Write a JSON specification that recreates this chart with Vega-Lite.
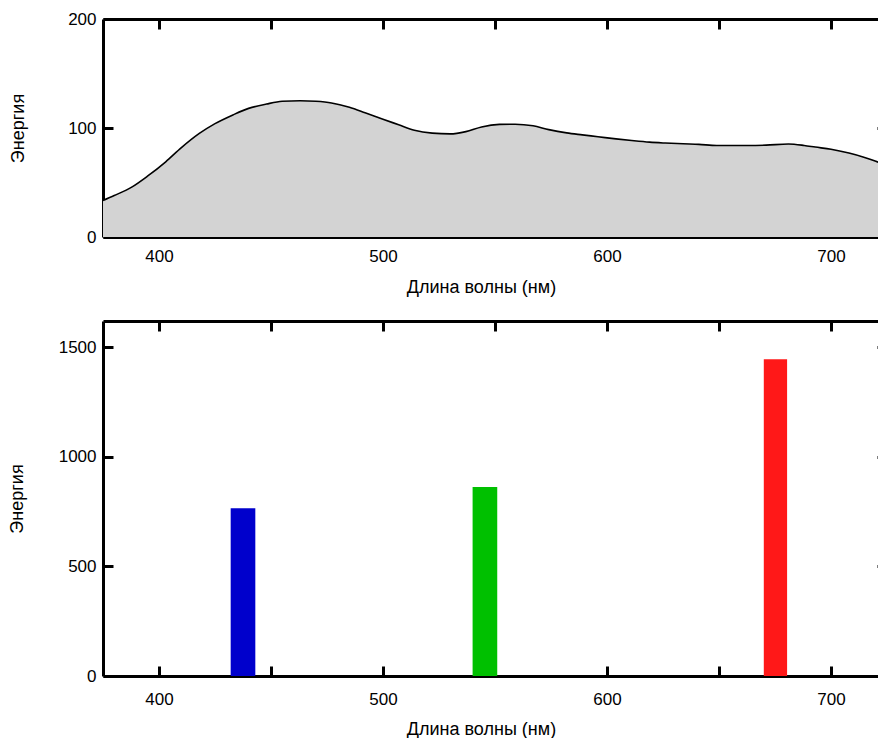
{
  "$schema": "https://vega.github.io/schema/vega-lite/v6.json",
  "padding": {"left": 8, "top": 10, "right": 0, "bottom": 0},
  "background": "white",
  "spacing": 23,
  "datasets": {
    "spectrum": [
      {"nm": 375, "energy": 33.5}, {"nm": 380, "energy": 38}, {"nm": 388, "energy": 46},
      {"nm": 395, "energy": 56}, {"nm": 403, "energy": 69}, {"nm": 410, "energy": 82},
      {"nm": 418, "energy": 95}, {"nm": 425, "energy": 104}, {"nm": 433, "energy": 112},
      {"nm": 440, "energy": 118}, {"nm": 448, "energy": 122}, {"nm": 455, "energy": 124.5},
      {"nm": 463, "energy": 125}, {"nm": 470, "energy": 124.5}, {"nm": 477, "energy": 123},
      {"nm": 485, "energy": 119}, {"nm": 492, "energy": 114}, {"nm": 500, "energy": 108},
      {"nm": 507, "energy": 103}, {"nm": 514, "energy": 98}, {"nm": 522, "energy": 95.3},
      {"nm": 530, "energy": 94.6}, {"nm": 537, "energy": 96.7}, {"nm": 544, "energy": 101},
      {"nm": 552, "energy": 103.3}, {"nm": 559, "energy": 103.5}, {"nm": 567, "energy": 102},
      {"nm": 574, "energy": 98.5}, {"nm": 582, "energy": 95.5}, {"nm": 589, "energy": 93.7},
      {"nm": 596, "energy": 92}, {"nm": 604, "energy": 90}, {"nm": 611, "energy": 88.5},
      {"nm": 619, "energy": 87}, {"nm": 626, "energy": 86.2}, {"nm": 634, "energy": 85.5},
      {"nm": 641, "energy": 85}, {"nm": 649, "energy": 84}, {"nm": 656, "energy": 84},
      {"nm": 663, "energy": 84}, {"nm": 671, "energy": 84.3}, {"nm": 681, "energy": 85.3},
      {"nm": 688, "energy": 84}, {"nm": 693, "energy": 82.5}, {"nm": 700, "energy": 80.5},
      {"nm": 708, "energy": 77}, {"nm": 715, "energy": 73}, {"nm": 720, "energy": 69.5},
      {"nm": 725, "energy": 65}
    ],
    "lines": [
      {"start": 432, "end": 443, "energy": 765, "color": "#0000cc"},
      {"start": 540, "end": 551, "energy": 862, "color": "#00c000"},
      {"start": 670, "end": 680.4, "energy": 1446, "color": "#ff1818"}
    ]
  },
  "config": {
    "view": {"stroke": null},
    "font": "Liberation Sans",
    "axis": {
      "grid": false,
      "domainColor": "black",
      "domainWidth": 3,
      "tickColor": "black",
      "tickWidth": 3,
      "tickSize": -10,
      "labelFont": "Liberation Sans",
      "labelFontSize": 17,
      "labelColor": "black",
      "titleFont": "Liberation Sans",
      "titleFontSize": 18,
      "titleFontWeight": "normal",
      "titleColor": "black",
      "format": "d"
    }
  },
  "vconcat": [
    {
      "width": 784,
      "height": 218,
      "data": {"name": "spectrum"},
      "layer": [
        {
          "mark": {"type": "area", "interpolate": "monotone", "color": "#d3d3d3", "clip": true},
          "encoding": {
            "x": {"field": "nm", "type": "quantitative", "scale": {"domain": [375, 725], "nice": false},
                  "axis": {"values": [400, 450, 500, 550, 600, 650, 700], "labelExpr": "datum.value % 100 === 0 ? datum.label : ''", "title": "Длина волны (нм)", "labelPadding": 21, "titlePadding": 14, "titleX": 378}},
            "y": {"field": "energy", "type": "quantitative", "scale": {"domain": [0, 200], "nice": false},
                  "axis": {"values": [0, 100, 200], "title": "Энергия", "labelPadding": 17, "titlePadding": 40}}
          }
        },
        {
          "mark": {"type": "line", "interpolate": "monotone", "color": "black", "strokeWidth": 1.6, "clip": true},
          "encoding": {
            "x": {"field": "nm", "type": "quantitative",
                  "axis": {"orient": "top", "values": [400, 450, 500, 550, 600, 650, 700], "labels": false, "title": null}},
            "y": {"field": "energy", "type": "quantitative",
                  "axis": {"orient": "right", "values": [0, 100, 200], "labels": false, "title": null}}
          }
        }
      ],
      "resolve": {"axis": {"x": "independent", "y": "independent"}}
    },
    {
      "width": 784,
      "height": 355,
      "data": {"name": "lines"},
      "layer": [
        {
          "mark": {"type": "bar"},
          "encoding": {
            "x": {"field": "start", "type": "quantitative", "scale": {"domain": [375, 725], "nice": false},
                  "axis": {"values": [400, 450, 500, 550, 600, 650, 700], "labelExpr": "datum.value % 100 === 0 ? datum.label : ''", "title": "Длина волны (нм)", "labelPadding": 25, "titlePadding": 13, "titleX": 378}},
            "x2": {"field": "end"},
            "y": {"field": "energy", "type": "quantitative", "scale": {"domain": [0, 1620], "nice": false},
                  "axis": {"values": [0, 500, 1000, 1500], "title": "Энергия", "labelPadding": 17, "titlePadding": 32}},
            "y2": {"datum": 0},
            "color": {"field": "color", "type": "nominal", "scale": null}
          }
        },
        {
          "mark": {"type": "bar", "opacity": 0},
          "encoding": {
            "x": {"field": "start", "type": "quantitative",
                  "axis": {"orient": "top", "values": [400, 450, 500, 550, 600, 650, 700], "labels": false, "title": null}},
            "x2": {"field": "end"},
            "y": {"field": "energy", "type": "quantitative",
                  "axis": {"orient": "right", "values": [0, 500, 1000, 1500], "labels": false, "title": null}},
            "y2": {"datum": 0}
          }
        }
      ],
      "resolve": {"axis": {"x": "independent", "y": "independent"}}
    }
  ]
}
